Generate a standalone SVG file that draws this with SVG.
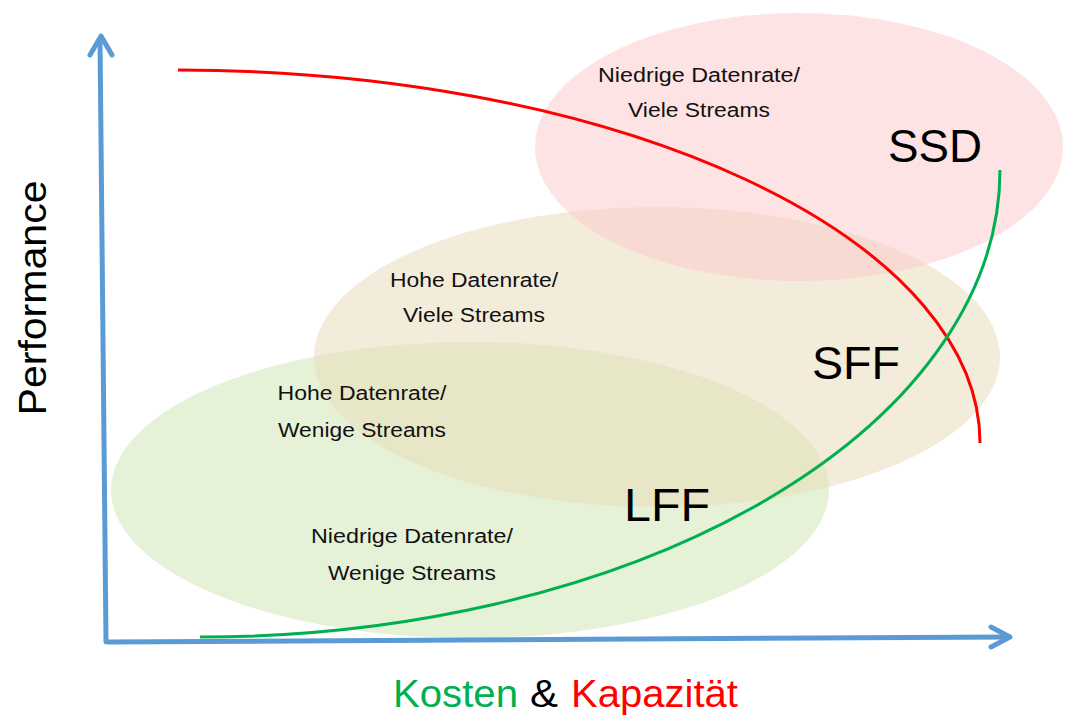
<svg xmlns="http://www.w3.org/2000/svg" width="1068" height="718" viewBox="0 0 1068 718">
<style>
.lbl{font-family:"Liberation Sans",Arial,sans-serif;font-size:20px;fill:#111;text-anchor:middle}
.big{font-family:"Liberation Sans",Arial,sans-serif;font-size:46px;fill:#000;text-anchor:middle}
.ax{font-family:"Liberation Sans",Arial,sans-serif;font-size:38px}
.axis{stroke:#5B9BD5;stroke-width:5;fill:none;stroke-linecap:round;stroke-linejoin:round}
</style>
<rect width="1068" height="718" fill="#fff"/>
<g id="regions">
<g id="lff"><ellipse cx="470" cy="490" rx="359" ry="148" fill="#CDE5B2" fill-opacity="0.5"/></g>
<g id="sff"><ellipse cx="657" cy="357" rx="343" ry="150" fill="#E7D9B6" fill-opacity="0.5"/></g>
<g id="ssd"><ellipse cx="799" cy="147" rx="264" ry="134" fill="#FBC8C8" fill-opacity="0.5"/></g>
</g>
<g id="connectors">
<path class="axis" d="M106,642 L100,38"/>
<path class="axis" d="M90,55 L101,36 L112,55"/>
<path class="axis" d="M108,642 L1009,637"/>
<path class="axis" d="M991,627 L1010,637 L991,647"/>
<path d="M178,70 A802,373 0 0 1 980,443" fill="none" stroke="#FF0000" stroke-width="3"/>
<path d="M200,637 A800,467 0 0 0 1000,170" fill="none" stroke="#00B050" stroke-width="3"/>
</g>
<g id="labels">
<text class="lbl" x="699" y="82" textLength="202" lengthAdjust="spacingAndGlyphs">Niedrige Datenrate/</text>
<text class="lbl" x="699" y="117" textLength="142" lengthAdjust="spacingAndGlyphs">Viele Streams</text>
<text class="big" x="935" y="162" textLength="94" lengthAdjust="spacingAndGlyphs">SSD</text>
<text class="lbl" x="474" y="287" textLength="168" lengthAdjust="spacingAndGlyphs">Hohe Datenrate/</text>
<text class="lbl" x="474" y="322" textLength="142" lengthAdjust="spacingAndGlyphs">Viele Streams</text>
<text class="big" x="856" y="379" textLength="88" lengthAdjust="spacingAndGlyphs">SFF</text>
<text class="lbl" x="362" y="400" textLength="169" lengthAdjust="spacingAndGlyphs">Hohe Datenrate/</text>
<text class="lbl" x="362" y="437" textLength="168" lengthAdjust="spacingAndGlyphs">Wenige Streams</text>
<text class="big" x="667" y="521" textLength="86" lengthAdjust="spacingAndGlyphs">LFF</text>
<text class="lbl" x="412" y="543" textLength="202" lengthAdjust="spacingAndGlyphs">Niedrige Datenrate/</text>
<text class="lbl" x="412" y="580" textLength="168" lengthAdjust="spacingAndGlyphs">Wenige Streams</text>
<text class="ax" x="0" y="0" transform="translate(46,298) rotate(-90)" text-anchor="middle" fill="#000" textLength="235" lengthAdjust="spacingAndGlyphs">Performance</text>
<text class="ax" x="393" y="707" fill="#00B050" textLength="125" lengthAdjust="spacingAndGlyphs">Kosten</text>
<text class="ax" x="530" y="707" fill="#000" textLength="28" lengthAdjust="spacingAndGlyphs">&amp;</text>
<text class="ax" x="571" y="707" fill="#FF0000" textLength="167" lengthAdjust="spacingAndGlyphs">Kapazität</text>
</g>
</svg>
